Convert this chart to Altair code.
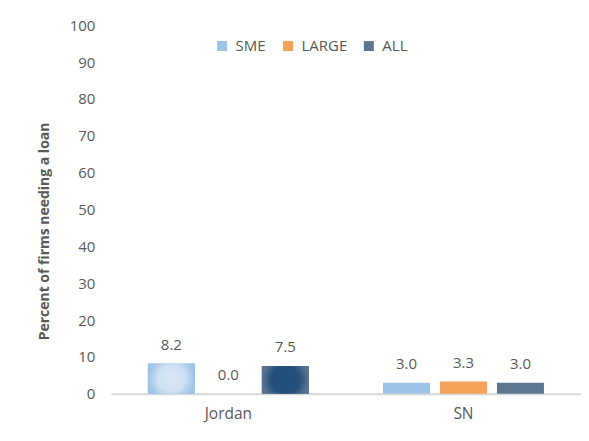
import altair as alt
import pandas as pd

countries = ["Jordan", "SN"]
groups = ["SME", "LARGE", "ALL"]
sme = [8.2, 3.0]
large = [0.0, 3.3]
all_firms = [7.5, 3.0]

rows = []
for i, c in enumerate(countries):
    for g, vals in zip(groups, [sme, large, all_firms]):
        rows.append({"country": c, "group": g, "value": vals[i], "label": f"{vals[i]:.1f}"})
df = pd.DataFrame(rows)

FONT = "Open Sans"
GREY = "#595959"
colors = ["#9DC3E6", "#F4A15A", "#5E7791"]

x_enc = alt.X("country:N", sort=countries, title=None,
              scale=alt.Scale(paddingInner=0, paddingOuter=0),
              axis=alt.Axis(labelAngle=0, labelFont=FONT, labelFontSize=15.5, labelColor=GREY,
                            domainColor="#D9D9D9", domainWidth=2, ticks=False, labelPadding=13))
xo_enc = alt.XOffset("group:N", sort=groups,
                     scale=alt.Scale(paddingInner=0.175, paddingOuter=0.65))
y_enc = alt.Y("value:Q", scale=alt.Scale(domain=[0, 100]),
              title="Percent of firms needing a loan",
              axis=alt.Axis(values=list(range(0, 101, 10)), grid=False, domain=False, ticks=False,
                            labelFont=FONT, labelFontSize=15, labelColor=GREY, labelPadding=16,
                            titleFont=FONT, titleFontSize=14, titleFontWeight="bold", titleColor=GREY,
                            titleX=-66, titleY=206, titleAngle=270, titleAlign="center",
                            titleBaseline="middle"))

base = alt.Chart(df)

bars = base.mark_bar().encode(
    x=x_enc, xOffset=xo_enc, y=y_enc,
    color=alt.Color("group:N", sort=groups,
                    scale=alt.Scale(domain=groups, range=colors),
                    legend=alt.Legend(title=None, orient="none", direction="horizontal",
                                      legendX=104, legendY=13, symbolType="square", symbolSize=100,
                                      symbolStrokeWidth=0, labelFont=FONT, labelFontSize=15,
                                      labelColor=GREY, columnPadding=14, labelOffset=6)),
)

sme_grad = alt.Gradient(gradient="radial",
                        stops=[alt.GradientStop(color="#DCE9F6", offset=0),
                               alt.GradientStop(color="#CFE1F3", offset=0.55),
                               alt.GradientStop(color="#9DC3E6", offset=1)])
all_grad = alt.Gradient(gradient="radial",
                        stops=[alt.GradientStop(color="#1F4E79", offset=0),
                               alt.GradientStop(color="#24507A", offset=0.6),
                               alt.GradientStop(color="#5A7490", offset=1)])

jordan_sme = base.transform_filter(
    (alt.datum.country == "Jordan") & (alt.datum.group == "SME")
).mark_bar(fill=sme_grad).encode(x=x_enc, xOffset=xo_enc, y=y_enc)

jordan_all = base.transform_filter(
    (alt.datum.country == "Jordan") & (alt.datum.group == "ALL")
).mark_bar(fill=all_grad).encode(x=x_enc, xOffset=xo_enc, y=y_enc)

labels = base.mark_text(baseline="bottom", dy=-11, font=FONT, fontSize=15, color=GREY).encode(
    x=x_enc, xOffset=xo_enc, y=y_enc, text="label:N")

chart = alt.layer(bars, jordan_sme, jordan_all, labels).properties(
    width=471, height=369,
    autosize=alt.AutoSizeParams(type="none"),
    padding={"left": 103, "top": 17, "right": 0, "bottom": 30},
).configure_view(stroke=None)

chart.save("out.html", embed_options={"renderer": "svg", "actions": False})
